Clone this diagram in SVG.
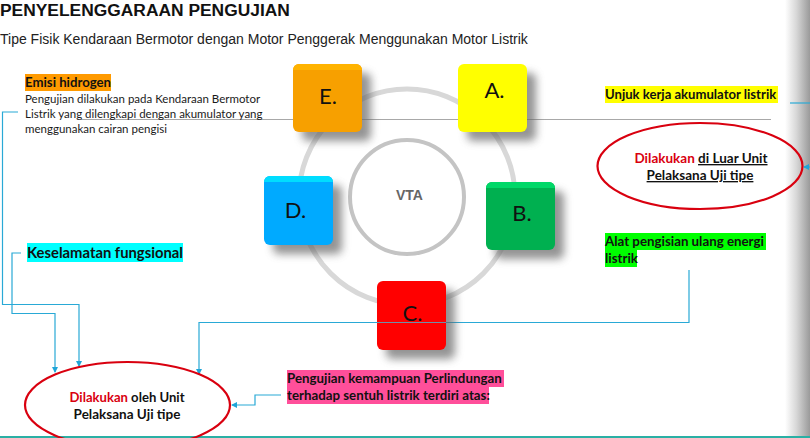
<svg xmlns="http://www.w3.org/2000/svg" width="810" height="438" viewBox="0 0 810 438">
<style>
.h{font-family:"Liberation Sans",Arial,sans-serif}
.c{font-family:Lato,"Open Sans",sans-serif;font-size:11.5px;fill:#1a1a1a}
.b{font-family:Lato,"Open Sans",sans-serif;font-size:13.1px;font-weight:700;fill:#111}
.k{font-family:Lato,"Open Sans",sans-serif;font-size:22px;fill:#111;text-anchor:middle}
.w{fill:none;stroke:#29a9d6;stroke-width:1.2}
.r{fill:none;stroke:#d9000f;stroke-width:2.2}
.m{text-anchor:middle}
</style>
<defs>
<linearGradient id="edge" x1="0" x2="1" y1="0" y2="0"><stop offset="0" stop-color="#fff"/><stop offset=".45" stop-color="#d8d8d8"/><stop offset="1" stop-color="#9a9a9a"/></linearGradient>
<filter id="sh" x="-30%" y="-30%" width="170%" height="170%"><feGaussianBlur stdDeviation="4"/></filter>
<marker id="a" viewBox="0 0 6 6" refX="5" refY="3" markerWidth="5" markerHeight="5" orient="auto"><path d="M0 0L6 3L0 6Z" fill="#1fa5d8"/></marker>
</defs>
<rect width="810" height="438" fill="#fff"/>
<rect x="785" y="0" width="25" height="438" fill="url(#edge)"/>
<rect x="0" y="436" width="810" height="2" fill="#2ab0a5"/>
<g id="title">
<text class="h" x="0" y="16" font-size="17.4" font-weight="700" fill="#111">PENYELENGGARAAN PENGUJIAN</text>
<text class="h" x="0" y="44" font-size="14" fill="#222">Tipe Fisik Kendaraan Bermotor dengan Motor Penggerak Menggunakan Motor Listrik</text>
</g>
<g id="rings" fill="none">
<circle cx="407" cy="197" r="108" stroke="#d8d8d8" stroke-width="5"/>
</g>
<g id="connectors">
<path d="M81 119.500H771" stroke="#a8a8a8" stroke-width="1" fill="none"/>
<path class="w" d="M18 112H2.500V304.500H79V366" marker-end="url(#a)"/>
<path class="w" d="M21 253H12V313.500H55V372" marker-end="url(#a)"/>
<path class="w" d="M689 270V322.500H199V374" marker-end="url(#a)"/>
<path class="w" d="M281 395H255V405H232" marker-end="url(#a)"/>
<path class="w" d="M790 103H810"/>
<path class="w" d="M810 167H804" marker-end="url(#a)"/>
</g>
<g id="vta">
<circle cx="407" cy="197" r="57" fill="#fff" stroke="#c4c4c4" stroke-width="4"/>
<text class="h m" x="409.500" y="200" font-size="14" font-weight="700" fill="#666">VTA</text>
</g>
<g id="node-a">
<rect x="467" y="73" width="69" height="68" rx="6" fill="#666" opacity=".7" filter="url(#sh)"/>
<rect x="458" y="64" width="69" height="68" rx="6" fill="#ff0"/>
<text class="k" x="494.500" y="98">A.</text>
</g>
<g id="node-b">
<rect x="495" y="191" width="69" height="68" rx="6" fill="#666" opacity=".7" filter="url(#sh)"/>
<rect x="486" y="182" width="69" height="68" rx="6" fill="#00b050"/>
<path d="M486 188a6 6 0 0 1 6-6h57a6 6 0 0 1 6 6H486Z" fill="#00d868"/>
<text class="k" x="522" y="221">B.</text>
</g>
<g id="node-c">
<rect x="386" y="290" width="69" height="69" rx="6" fill="#666" opacity=".7" filter="url(#sh)"/>
<rect x="377" y="281" width="69" height="69" rx="6" fill="#f00"/>
<text class="k" x="412.500" y="321">C.</text>
<path d="M377 322.500H446" stroke="#6f8fa8" stroke-width="1.200" fill="none"/>
</g>
<g id="node-d">
<rect x="273" y="185" width="69" height="69" rx="6" fill="#666" opacity=".7" filter="url(#sh)"/>
<rect x="264" y="176" width="69" height="69" rx="6" fill="#0af"/>
<path d="M264 182a6 6 0 0 1 6-6h57a6 6 0 0 1 6 6H264Z" fill="#0df"/>
<text class="k" x="295.500" y="218">D.</text>
</g>
<g id="node-e">
<rect x="302" y="73" width="69" height="68" rx="6" fill="#666" opacity=".7" filter="url(#sh)"/>
<rect x="293" y="64" width="69" height="68" rx="6" fill="#f7a000"/>
<path d="M293 70a6 6 0 0 1 6-6h57a6 6 0 0 1 6 6H293Z" fill="#ffb300"/>
<text class="k" x="328" y="104">E.</text>
</g>
<g id="label-emisi">
<rect x="25" y="74" width="86" height="17" fill="#ff9a00"/>
<text class="b" x="25" y="87" style="font-size:13.200px">Emisi hidrogen</text>
<text class="c" x="25" y="103">Pengujian dilakukan pada Kendaraan Bermotor</text>
<text class="c" x="25" y="118">Listrik yang dilengkapi dengan akumulator yang</text>
<text class="c" x="25" y="133">menggunakan cairan pengisi</text>
</g>
<g id="label-keselamatan">
<rect x="27" y="243" width="156" height="19" fill="#0ff"/>
<text class="b" x="27" y="258" style="font-size:14.800px">Keselamatan fungsional</text>
</g>
<g id="label-unjuk">
<rect x="605" y="86" width="173" height="17" fill="#ff0"/>
<text class="b" x="605" y="99">Unjuk kerja akumulator listrik</text>
</g>
<g id="ellipse-luar">
<ellipse class="r" cx="700" cy="166" rx="102.500" ry="43"/>
<text class="b m" x="701" y="163" style="font-size:13.500px"><tspan fill="#d9000f">Dilakukan</tspan> <tspan text-decoration="underline">di Luar Unit</tspan></text>
<text class="b m" x="700" y="180" text-decoration="underline" style="font-size:13.500px">Pelaksana Uji tipe</text>
</g>
<g id="label-alat">
<rect x="605" y="233" width="161" height="17" fill="#0f0"/>
<rect x="605" y="250" width="32" height="17" fill="#0f0"/>
<text class="b" x="605" y="246" style="font-size:13.300px">Alat pengisian ulang energi</text>
<text class="b" x="605" y="263" style="font-size:13.300px">listrik</text>
</g>
<g id="ellipse-oleh">
<ellipse class="r" cx="127.500" cy="405" rx="102.500" ry="43"/>
<text class="b m" x="127" y="402" style="font-size:13.100px"><tspan fill="#d9000f">Dilakukan</tspan> oleh Unit</text>
<text class="b m" x="127" y="419" style="font-size:13.500px">Pelaksana Uji tipe</text>
</g>
<g id="label-pengujian">
<rect x="287" y="370" width="217" height="17" fill="#ff4f9a"/>
<rect x="287" y="387" width="202" height="17" fill="#ff4f9a"/>
<text class="b" x="287" y="383" style="font-size:13.300px">Pengujian kemampuan Perlindungan</text>
<text class="b" x="287" y="400" style="font-size:13.300px">terhadap sentuh listrik terdiri atas:</text>
</g>
</svg>
